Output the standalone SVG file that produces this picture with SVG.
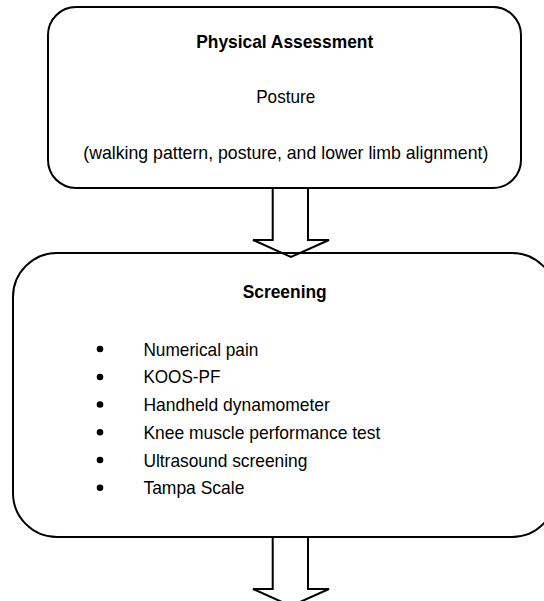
<svg xmlns="http://www.w3.org/2000/svg" width="544" height="601" viewBox="0 0 544 601">
<style>
.box{fill:none;stroke:#000;stroke-width:2}
.arr{fill:none;stroke:#000;stroke-width:2;stroke-linejoin:miter}
text{font-family:"Liberation Sans",Arial,sans-serif;font-size:19px;fill:#000}
.b{font-weight:bold}
.c{text-anchor:middle}
</style>
<rect width="544" height="601" fill="#fff"/>
<g id="node-physical">
<rect class="box" x="48" y="7" width="473" height="181" rx="28" ry="28"/>
<text class="b c" x="284.7" y="48" textLength="177" lengthAdjust="spacingAndGlyphs">Physical Assessment</text>
<text class="c" x="285.7" y="102.7" textLength="59" lengthAdjust="spacingAndGlyphs">Posture</text>
<text class="c" x="285.8" y="158.5" textLength="405" lengthAdjust="spacingAndGlyphs">(walking pattern, posture, and lower limb alignment)</text>
</g>
<g id="node-screening">
<rect class="box" x="13" y="253" width="543" height="284" rx="44" ry="44"/>
<text class="b c" x="284.7" y="298" textLength="84" lengthAdjust="spacingAndGlyphs">Screening</text>
<g>
<circle cx="100" cy="349" r="3.3"/>
<text x="143.4" y="355.5" textLength="115" lengthAdjust="spacingAndGlyphs">Numerical pain</text>
<circle cx="100" cy="377" r="3.3"/>
<text x="143.4" y="383.3" textLength="77" lengthAdjust="spacingAndGlyphs">KOOS-PF</text>
<circle cx="100" cy="404.5" r="3.3"/>
<text x="143.4" y="411" textLength="186.5" lengthAdjust="spacingAndGlyphs">Handheld dynamometer</text>
<circle cx="100" cy="432.3" r="3.3"/>
<text x="143.4" y="438.8" textLength="237" lengthAdjust="spacingAndGlyphs">Knee muscle performance test</text>
<circle cx="100" cy="460" r="3.3"/>
<text x="143.4" y="466.5" textLength="164" lengthAdjust="spacingAndGlyphs">Ultrasound screening</text>
<circle cx="100" cy="487.8" r="3.3"/>
<text x="143.4" y="494.3" textLength="101" lengthAdjust="spacingAndGlyphs">Tampa Scale</text>
</g>
</g>
<g id="connectors">
<polygon class="arr" points="272.7,188 308,188 308,240 329,240 291,257 253,240 272.7,240"/>
<polygon class="arr" points="272.7,537 308,537 308,589 329,589 291,606 253,589 272.7,589"/>
</g>
</svg>
